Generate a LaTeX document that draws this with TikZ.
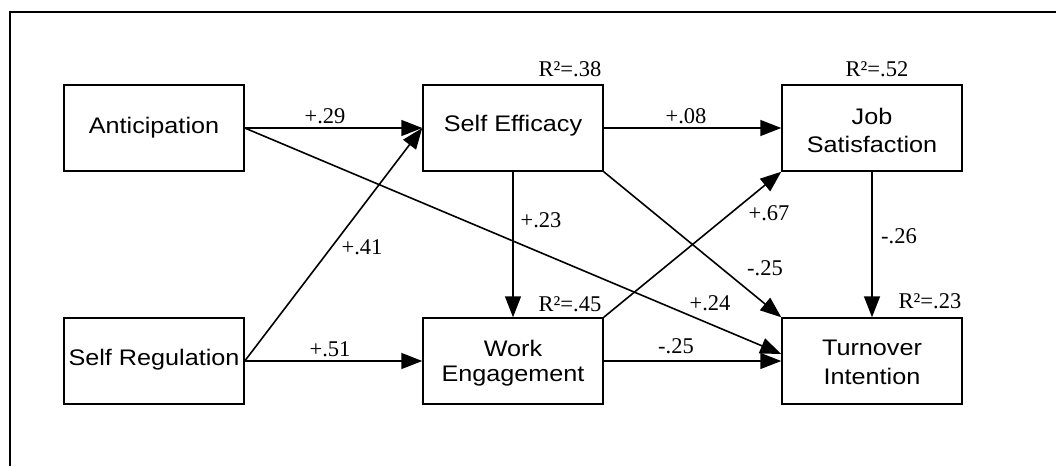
\documentclass[tikz,border=0pt]{standalone}
\usepackage{graphicx}
\usepackage{fontspec}
\setmainfont{Liberation Serif}
\setsansfont{Liberation Sans}
\usetikzlibrary{arrows.meta,calc}
\newcommand\hstretch[1]{\scalebox{1.12}[1]{#1}}
\tikzset{
  var/.style={draw, line width=1.5pt, rectangle, minimum width=180pt, minimum height=86pt, inner sep=0pt},
  lbl/.style={font=\sffamily\fontsize{22.5}{26}\selectfont, anchor=base, inner sep=0pt},
  path/.style={line width=1.6pt, -{Triangle[length=21pt,width=16pt]}},
  coef/.style={font=\fontsize{22.5}{25}\selectfont, inner sep=0pt},
}
\begin{document}
\begin{tikzpicture}[x=1pt,y=-1pt]
\useasboundingbox (0,0) rectangle (1056,466);
\fill[white] (0,0) rectangle (1056,466);
\draw[line width=1.6pt] (10,466) -- (10,12) -- (1056,12);
\node[var, label={[lbl]center:\hstretch{Anticipation}}] (A) at (154,128) {};
\node[var, label={[lbl, yshift=2pt]center:\hstretch{Self Efficacy}}] (SE) at (513,128) {};
\node[var, label={[lbl, yshift=11.3pt]center:\hstretch{Job}},
           label={[lbl, yshift=-16.3pt]center:\hstretch{Satisfaction}}] (JS) at (872,128) {};
\node[var, label={[lbl, yshift=1pt]center:\hstretch{Self Regulation}}] (SR) at (154,361) {};
\node[var, label={[lbl, yshift=12.7pt]center:\hstretch{Work}},
           label={[lbl, yshift=-15pt]center:\hstretch{Engagement}}] (WE) at (513,361) {};
\node[var, label={[lbl, yshift=12.7pt]center:\hstretch{Turnover}},
           label={[lbl, yshift=-15pt]center:\hstretch{Intention}}] (TI) at (872,361) {};
\coordinate (ti1) at ($(TI.west)+(0,-7)$);
\draw[path] (A.east) -- (SE.west);
\draw[path] (SR.east) -- (SE.west);
\draw[path] (A.east) -- (ti1);
\draw[path] (SR.east) -- (WE.west);
\draw[path] (SE.east) -- (JS.west);
\draw[path] (SE.south) -- (WE.north);
\draw[path] (SE.south east) -- (TI.north west);
\draw[path] (WE.north east) -- (JS.south west);
\draw[path] (JS.south) -- (TI.north);
\draw[path] (WE.east) -- (TI.west);
\node[coef] (l1) at (325,116) {+.29};
\node[coef] (l2) at (362,247) {+.41};
\node[coef] (l3) at (710,303) {+.24};
\node[coef] (l4) at (330,349) {+.51};
\node[coef] (l5) at (686,116) {+.08};
\node[coef] (l6) at (541,220) {+.23};
\node[coef] (l7) at (765,268) {-.25};
\node[coef] (l8) at (769,213) {+.67};
\node[coef] (l9) at (899,236) {-.26};
\node[coef] (l10) at (676,346) {-.25};
\node[coef] (r1) at (570,69) {R²=.38};
\node[coef] (r2) at (877,69) {R²=.52};
\node[coef] (r3) at (570,304) {R²=.45};
\node[coef] (r4) at (930,301) {R²=.23};
\end{tikzpicture}
\end{document}
